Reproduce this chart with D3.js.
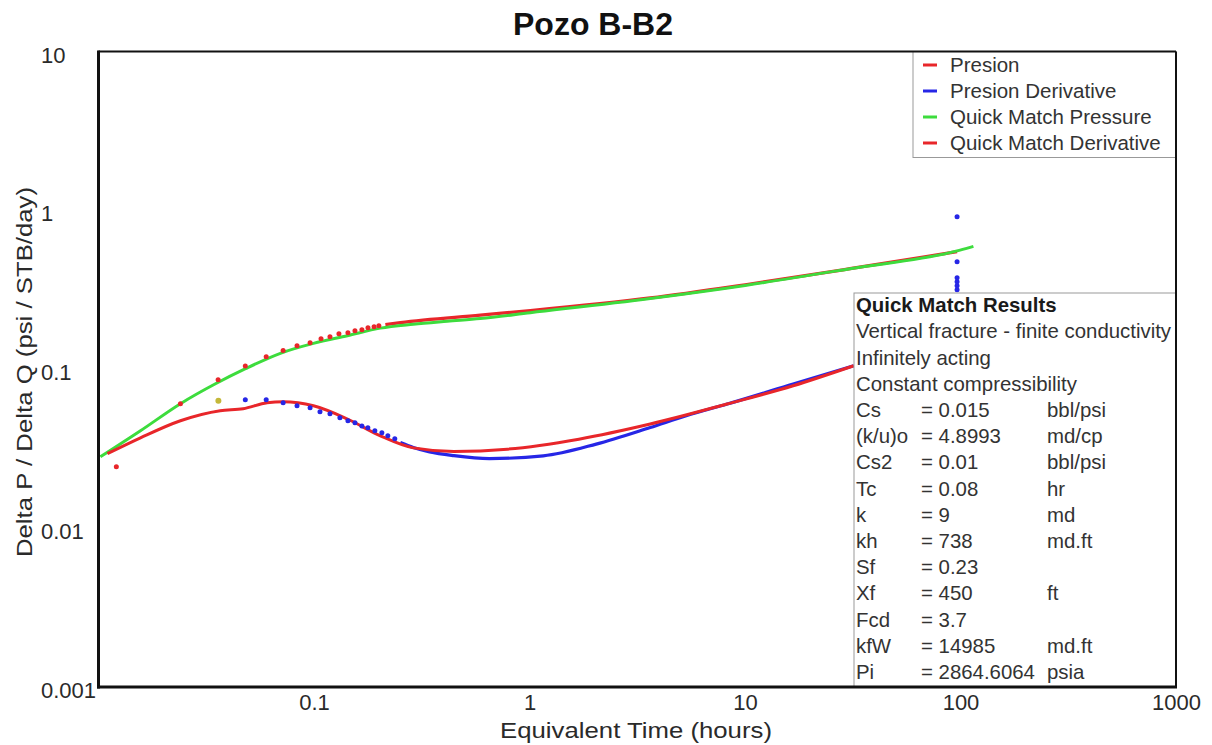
<!DOCTYPE html>
<html>
<head>
<meta charset="utf-8">
<script src="https://cdn.jsdelivr.net/npm/d3@7"></script>
<style>
  html, body { margin: 0; padding: 0; background: #fff; }
  svg { display: block; font-family: "Liberation Sans", Arial, sans-serif; }
</style>
</head>
<body>
<svg id="chart" width="1212" height="745"></svg>
<script>
// ---- Data (time in hours, Delta P / Delta Q in psi/(STB/day)) ----
const xTickValues = [0.1, 1, 10, 100, 1000];
const xTickLabels = ["0.1", "1", "10", "100", "1000"];
const yTickValues = [0.001, 0.01, 0.1, 1, 10];
const yTickLabels = ["0.001", "0.01", "0.1", "1", "10"];

// Measured pressure: sparse early samples shown as dots
const presionPoints = [
  [0.0121, 0.0243], [0.0240, 0.0607], [0.0359, 0.0859], [0.0480, 0.105],
  [0.0600, 0.120], [0.0719, 0.131], [0.0834, 0.1406], [0.0959, 0.147],
  [0.1078, 0.1556], [0.1186, 0.160], [0.1305, 0.1675], [0.1437, 0.170],
  [0.1549, 0.175], [0.1668, 0.1775], [0.178, 0.1826], [0.190, 0.1853],
  [0.200, 0.188]
];
// Measured pressure: dense late record drawn as a trace
const presionTrace = [
  [0.2144, 0.1907], [0.2516, 0.1965], [0.591, 0.2190], [1.009, 0.234],
  [3.633, 0.281], [10.02, 0.3405], [30.74, 0.4295], [96.4, 0.5495]
];

// Measured derivative: sparse early samples shown as dots
const derivPoints = [
  [0.048, 0.0643], [0.060, 0.0643], [0.0719, 0.0615], [0.0834, 0.0589],
  [0.0959, 0.0572], [0.1066, 0.0540], [0.1186, 0.0524], [0.1319, 0.0495],
  [0.1437, 0.0474], [0.1549, 0.0460], [0.1668, 0.0440], [0.1778, 0.0428],
  [0.1916, 0.0410], [0.2065, 0.0398], [0.2201, 0.0381], [0.2371, 0.0365]
];
// Measured derivative: dense record drawn as a trace
const derivTrace = [
  [0.2516, 0.0346], [0.289, 0.0322], [0.344, 0.0302], [0.446, 0.0286],
  [0.651, 0.0274], [1.159, 0.0285], [2.04, 0.0338], [3.633, 0.0430],
  [5.34, 0.0510], [8.27, 0.0604], [16.73, 0.0807], [31.96, 0.1052]
];
// Late derivative scatter at end of test
const derivTail = [
  [96.4, 0.913], [96.4, 0.4755], [96.4, 0.377], [96.4, 0.356],
  [96.4, 0.336], [96.4, 0.317]
];
// First derivative sample (flagged)
const flaggedPoints = [[0.036, 0.0633]];

// Quick match model curves
const matchPressure = [
  [0.0102, 0.0281], [0.01566, 0.0410], [0.0240, 0.0607], [0.0349, 0.0810],
  [0.0481, 0.1008], [0.0698, 0.126], [0.0994, 0.1454], [0.1429, 0.1626],
  [0.2032, 0.1815], [0.289, 0.1920], [0.4157, 0.2005], [0.591, 0.2085],
  [1.009, 0.2270], [3.633, 0.279], [10.02, 0.337], [30.74, 0.4295],
  [99.6, 0.562], [114.8, 0.5936]
];
const matchDerivative = [
  [0.0110, 0.0294], [0.01566, 0.0370], [0.0240, 0.0474], [0.0367, 0.0548],
  [0.0469, 0.0564], [0.0606, 0.0615], [0.0719, 0.0624], [0.0994, 0.0589],
  [0.1422, 0.0488], [0.2032, 0.0381], [0.289, 0.0320], [0.446, 0.0304],
  [0.789, 0.0314], [1.695, 0.0363], [3.633, 0.0452], [8.25, 0.0604],
  [16.73, 0.0787], [31.96, 0.1052]
];

// Legend and results panel
const legendLabels = ["Presion", "Presion Derivative", "Quick Match Pressure", "Quick Match Derivative"];
const legendColors = ["#e8262a", "#2626e6", "#3ddc3d", "#e8262a"];
const resultsTitle = "Quick Match Results";
const resultsNotes = ["Vertical fracture - finite conductivity", "Infinitely acting", "Constant compressibility"];
const resultNames = ["Cs", "(k/u)o", "Cs2", "Tc", "k", "kh", "Sf", "Xf", "Fcd", "kfW", "Pi"];
const resultValues = ["= 0.015", "= 4.8993", "= 0.01", "= 0.08", "= 9", "= 738", "= 0.23", "= 450", "= 3.7", "= 14985", "= 2864.6064"];
const resultUnits = ["bbl/psi", "md/cp", "bbl/psi", "hr", "md", "md.ft", "", "ft", "", "md.ft", "psia"];

// ---- Layout ----
const RED = "#e8262a", BLUE = "#2626e6", GREEN = "#3ddc3d";
const TEXT = "#2a2a2a";
const plot = { left: 98.5, right: 1176, top: 51.5, bottom: 687 };

const svg = d3.select("#chart");
const x = d3.scaleLog().domain([0.01, 1000]).range([plot.left, plot.right]);
const y = d3.scaleLog().domain([0.001, 10]).range([plot.bottom, plot.top]);

svg.append("defs").append("clipPath").attr("id", "plotClip")
  .append("rect")
  .attr("x", plot.left).attr("y", plot.top)
  .attr("width", plot.right - plot.left).attr("height", plot.bottom - plot.top);

// Title
svg.append("text")
  .attr("x", 593).attr("y", 35)
  .attr("text-anchor", "middle")
  .attr("font-size", 32).attr("font-weight", "bold").attr("fill", "#111")
  .text("Pozo B-B2");

const g = svg.append("g").attr("clip-path", "url(#plotClip)");

const line = d3.line()
  .x(d => x(d[0])).y(d => y(d[1]))
  .curve(d3.curveMonotoneX);

// Measured data traces
g.append("path").datum(derivTrace)
  .attr("d", line).attr("fill", "none")
  .attr("stroke", BLUE).attr("stroke-width", 3.2);
g.append("path").datum(presionTrace)
  .attr("d", line).attr("fill", "none")
  .attr("stroke", RED).attr("stroke-width", 3.2);

// Model curves
g.append("path").datum(matchPressure)
  .attr("d", line).attr("fill", "none")
  .attr("stroke", GREEN).attr("stroke-width", 3);
g.append("path").datum(matchDerivative)
  .attr("d", line).attr("fill", "none")
  .attr("stroke", RED).attr("stroke-width", 3);

// Measured data dots
function dots(data, color, r) {
  g.append("g").selectAll("circle").data(data).join("circle")
    .attr("cx", d => x(d[0])).attr("cy", d => y(d[1]))
    .attr("r", r).attr("fill", color);
}
dots(presionPoints, RED, 2.5);
dots(derivPoints, BLUE, 2.5);
dots(derivTail, BLUE, 2.5);
dots(flaggedPoints, "#c4b83a", 3);

// Axis tick labels (positions from the log scales)
const xAxis = d3.axisBottom(x).tickValues(xTickValues)
  .tickFormat((d, i) => xTickLabels[i]).tickSize(0).tickPadding(0);
const xg = svg.append("g").attr("transform", `translate(0,${plot.bottom})`).call(xAxis);
xg.select(".domain").remove();
xg.selectAll("text")
  .attr("y", 23).attr("dy", null)
  .attr("font-size", 22).attr("fill", TEXT)
  .attr("font-family", "Liberation Sans, Arial, sans-serif");

const yAxis = d3.axisLeft(y).tickValues(yTickValues)
  .tickFormat((d, i) => yTickLabels[i]).tickSize(0);
const yg = svg.append("g").attr("transform", `translate(${plot.left},0)`).call(yAxis);
yg.select(".domain").remove();
yg.selectAll("text")
  .attr("text-anchor", "start")
  .attr("x", 41 - plot.left).attr("dy", null).attr("y", 10.5)
  .attr("font-size", 22).attr("fill", TEXT)
  .attr("font-family", "Liberation Sans, Arial, sans-serif");

// Axis titles
svg.append("text")
  .attr("transform", "translate(636,738) scale(1.12,1)")
  .attr("text-anchor", "middle").attr("font-size", 23).attr("fill", TEXT)
  .text("Equivalent Time (hours)");
svg.append("text")
  .attr("transform", "translate(32,372) rotate(-90) scale(1.12,1)")
  .attr("text-anchor", "middle").attr("font-size", 23).attr("fill", TEXT)
  .text("Delta P / Delta Q (psi / STB/day)");

// Legend box
const legend = svg.append("g");
legend.append("rect")
  .attr("x", 913).attr("y", plot.top)
  .attr("width", plot.right - 913).attr("height", 106)
  .attr("fill", "#fff").attr("stroke", "#999").attr("stroke-width", 1);
legendLabels.forEach((lbl, i) => {
  const cy = 65 + i * 26;
  legend.append("line")
    .attr("x1", 923).attr("x2", 937).attr("y1", cy).attr("y2", cy)
    .attr("stroke", legendColors[i]).attr("stroke-width", 3);
  legend.append("text")
    .attr("x", 950).attr("y", cy).attr("dy", "0.35em")
    .attr("font-size", 20.5).attr("fill", "#333")
    .text(lbl);
});

// Results panel
const res = svg.append("g");
res.append("rect")
  .attr("x", 854).attr("y", 293)
  .attr("width", plot.right - 854).attr("height", plot.bottom - 293)
  .attr("fill", "#fff").attr("stroke", "#999").attr("stroke-width", 1);
const rowY = i => 305 + i * 26.2;
const FS = 20.4;
res.append("text")
  .attr("x", 856).attr("y", rowY(0)).attr("dy", "0.35em")
  .attr("font-size", FS).attr("font-weight", "bold").attr("fill", "#1a1a1a")
  .text(resultsTitle);
resultsNotes.forEach((t, i) => {
  res.append("text")
    .attr("x", 856).attr("y", rowY(i + 1)).attr("dy", "0.35em")
    .attr("font-size", FS).attr("fill", "#333").text(t);
});
resultNames.forEach((n, i) => {
  const yy = rowY(i + 4);
  res.append("text").attr("x", 856).attr("y", yy).attr("dy", "0.35em")
    .attr("font-size", FS).attr("fill", "#333").text(n);
  res.append("text").attr("x", 921).attr("y", yy).attr("dy", "0.35em")
    .attr("font-size", FS).attr("fill", "#333").text(resultValues[i]);
  res.append("text").attr("x", 1047).attr("y", yy).attr("dy", "0.35em")
    .attr("font-size", FS).attr("fill", "#333").text(resultUnits[i]);
});

// Plot frame
svg.append("line").attr("x1", plot.left).attr("x2", plot.right)
  .attr("y1", plot.top).attr("y2", plot.top)
  .attr("stroke", "#111").attr("stroke-width", 2);
svg.append("line").attr("x1", plot.right).attr("x2", plot.right)
  .attr("y1", plot.top).attr("y2", plot.bottom)
  .attr("stroke", "#111").attr("stroke-width", 2);
svg.append("line").attr("x1", plot.left).attr("x2", plot.left)
  .attr("y1", plot.top - 1).attr("y2", plot.bottom + 1.5)
  .attr("stroke", "#111").attr("stroke-width", 3);
svg.append("line").attr("x1", plot.left - 1.5).attr("x2", plot.right + 1)
  .attr("y1", plot.bottom).attr("y2", plot.bottom)
  .attr("stroke", "#111").attr("stroke-width", 3);
</script>
</body>
</html>
